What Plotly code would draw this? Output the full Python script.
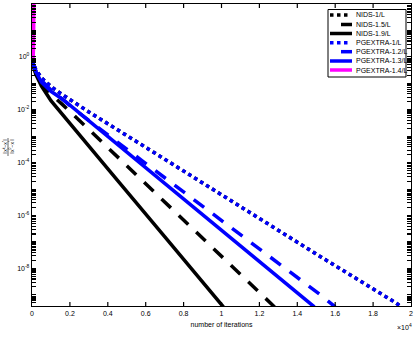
import plotly.graph_objects as go

# ---- data (iterations, relative error) ----
nids1_x = [0, 50, 200, 500, 1000, 1500, 3000, 6200, 9000, 12500, 15000, 19200, 19500]
nids1_y = [0.76, 0.60, 0.33, 0.16, 7.6e-2, 4.2e-2, 8.3e-3, 3.1e-4, 1.7e-5, 4.6e-7, 3.5e-8, 5.0e-10, 3.5e-10]

nids15_x = [0, 50, 200, 500, 1000, 1600, 3000, 5300, 7100, 9000, 11000, 12800]
nids15_y = [0.76, 0.52, 0.25, 0.10, 3.8e-2, 1.6e-2, 1.8e-3, 4.7e-5, 2.8e-6, 1.4e-7, 6.0e-9, 3.5e-10]

nids19_x = [0, 50, 200, 500, 1000, 2000, 4500, 7000, 10000, 10100]
nids19_y = [0.76, 0.50, 0.22, 7.9e-2, 2.2e-2, 3.0e-3, 2.2e-5, 1.6e-7, 4.5e-10, 3.5e-10]

pg1_x = [0, 50, 200, 500, 1000, 1500, 3000, 6200, 9000, 12500, 15000, 19200, 19500]
pg1_y = [0.76, 0.60, 0.33, 0.16, 7.6e-2, 4.2e-2, 8.3e-3, 3.1e-4, 1.7e-5, 4.6e-7, 3.5e-8, 5.0e-10, 3.5e-10]

pg12_x = [0, 50, 200, 500, 1000, 1600, 2600, 5800, 8000, 11100, 12900, 15300, 16000]
pg12_y = [0.76, 0.58, 0.30, 0.13, 5.6e-2, 2.5e-2, 6.5e-3, 1.2e-4, 7.9e-6, 1.7e-7, 1.8e-8, 9.1e-10, 3.5e-10]

pg13_x = [0, 50, 200, 500, 1000, 1650, 3000, 6200, 10600, 12500, 14900]
pg13_y = [0.76, 0.56, 0.28, 0.11, 5.0e-2, 2.4e-2, 3.8e-3, 5.0e-5, 1.26e-7, 9.5e-9, 3.5e-10]

pg14_x = [0, 60, 80, 95, 105, 115]
pg14_y = [0.76, 0.89, 2.5, 16, 160, 3200]

names = ["NIDS-1/L", "NIDS-1.5/L", "NIDS-1.9/L", "PGEXTRA-1/L",
         "PGEXTRA-1.2/L", "PGEXTRA-1.3/L", "PGEXTRA-1.4/L"]
xs = [nids1_x, nids15_x, nids19_x, pg1_x, pg12_x, pg13_x, pg14_x]
ys = [nids1_y, nids15_y, nids19_y, pg1_y, pg12_y, pg13_y, pg14_y]
colors = ["black", "black", "black", "#0000ff", "#0000ff", "#0000ff", "#ff00ff"]
dashes = ["dot", "13px,11px", "solid", "dot", "13px,11px", "solid", "solid"]

x_tickvals = [0, 2000, 4000, 6000, 8000, 10000, 12000, 14000, 16000, 18000, 20000]
x_ticktext = ["0", "0.2", "0.4", "0.6", "0.8", "1", "1.2", "1.4", "1.6", "1.8", "2"]
y_label_exps = [2, 0, -2, -4, -6, -8]

FONT = "Liberation Sans, Arial, sans-serif"
W, H = 416, 364
L, R, T, B = 32, 5, 4, 58
PW, PH = W - L - R, H - T - B

def px2x(px):
    return (px - L) / PW

def px2y(py):
    return (H - B - py) / PH

# y ticks: every 1..9 x 10^e, labels only on even decades
y_tickvals, y_ticktext = [], []
for e in range(-10, 3):
    for m in range(1, 10):
        if e == 2 and m > 1:
            break
        y_tickvals.append(m * 10.0 ** e)
        y_ticktext.append("10<sup>%d</sup>" % e if (m == 1 and e in y_label_exps) else "")

fig = go.Figure()
for n, x, y, c, d in zip(names, xs, ys, colors, dashes):
    fig.add_trace(go.Scatter(x=x, y=y, mode="lines", name=n,
                             line=dict(color=c, width=3.5, dash=d),
                             showlegend=False, hoverinfo="skip"))

shapes = []
annotations = []

# x-axis tick marks (bottom and mirrored top), inside
tick_h = 4.0 / PH
for tv in x_tickvals[1:-1]:
    shapes.append(dict(type="line", xref="x", yref="paper", x0=tv, x1=tv, y0=0, y1=tick_h,
                       line=dict(color="black", width=1.2), layer="above"))
    shapes.append(dict(type="line", xref="x", yref="paper", x0=tv, x1=tv, y0=1 - tick_h, y1=1,
                       line=dict(color="black", width=1.2), layer="above"))

# manual legend (compact like MATLAB)
shapes.append(dict(type="rect", xref="paper", yref="paper",
                   x0=px2x(328), x1=px2x(406), y0=px2y(77), y1=px2y(9.5),
                   line=dict(color="black", width=1), fillcolor="white", layer="above"))
row_y = [15, 24.5, 33.5, 42.7, 51.7, 61, 70]
for n, c, d, ry in zip(names, colors, dashes, row_y):
    if d == "solid":
        x0, x1, dd = 330, 352, "solid"
    elif d == "dot":
        x0, x1, dd = 330, 349, "dot"
    else:
        x0, x1, dd = 341, 352, "solid"
    shapes.append(dict(type="line", xref="paper", yref="paper",
                       x0=px2x(x0), x1=px2x(x1), y0=px2y(ry), y1=px2y(ry),
                       line=dict(color=c, width=3.5, dash=dd), layer="above"))
    annotations.append(dict(xref="paper", yref="paper", x=px2x(353.5), y=px2y(ry),
                            text=n, showarrow=False, xanchor="left", yanchor="middle",
                            font=dict(family=FONT, size=7, color="black")))

# x10^4 multiplier
annotations.append(dict(xref="paper", yref="paper", x=px2x(414), y=px2y(327),
                        text="×10<sup>4</sup>", showarrow=False, xanchor="right",
                        yanchor="middle", font=dict(family=FONT, size=7, color="black")))

# y label fraction (rotated)
annotations.append(dict(xref="paper", yref="paper", x=px2x(8), y=px2y(147),
                        text="‖x<sup>k</sup>−x<sup>*</sup>‖<br>‖x<sup>0</sup>−x<sup>*</sup>‖",
                        showarrow=False, textangle=-90, xanchor="center", yanchor="middle",
                        font=dict(family=FONT, size=5, color="black")))
shapes.append(dict(type="line", xref="paper", yref="paper",
                   x0=px2x(8), x1=px2x(8), y0=px2y(138), y1=px2y(156),
                   line=dict(color="black", width=0.6)))

fig.update_layout(
    width=W, height=H,
    margin=dict(l=L, r=R, t=T, b=B, pad=0),
    paper_bgcolor="white", plot_bgcolor="white",
    font=dict(family=FONT, size=7, color="black"),
    showlegend=False, hovermode=False,
    shapes=shapes, annotations=annotations,
    xaxis=dict(range=[0, 20000], tickmode="array", tickvals=x_tickvals,
               ticktext=x_ticktext, ticks="", showline=True, linecolor="black",
               linewidth=1.3, mirror=True, showgrid=False, zeroline=False,
               automargin=False, tickfont=dict(family=FONT, size=7),
               title=dict(text="number of iterations", standoff=6,
                          font=dict(family=FONT, size=7))),
    yaxis=dict(type="log", range=[-9.42, 2], tickmode="array", tickvals=y_tickvals,
               ticktext=y_ticktext, ticks="inside", ticklen=4, tickwidth=1.1,
               tickcolor="black", showline=True, linecolor="black", linewidth=1.3,
               mirror="allticks", showgrid=False, zeroline=False, automargin=False,
               tickfont=dict(family=FONT, size=7)),
)

fig.write_html("out.html", config={"displayModeBar": False, "staticPlot": True},
               post_script="document.body.style.margin='0';document.body.style.padding='0';")
